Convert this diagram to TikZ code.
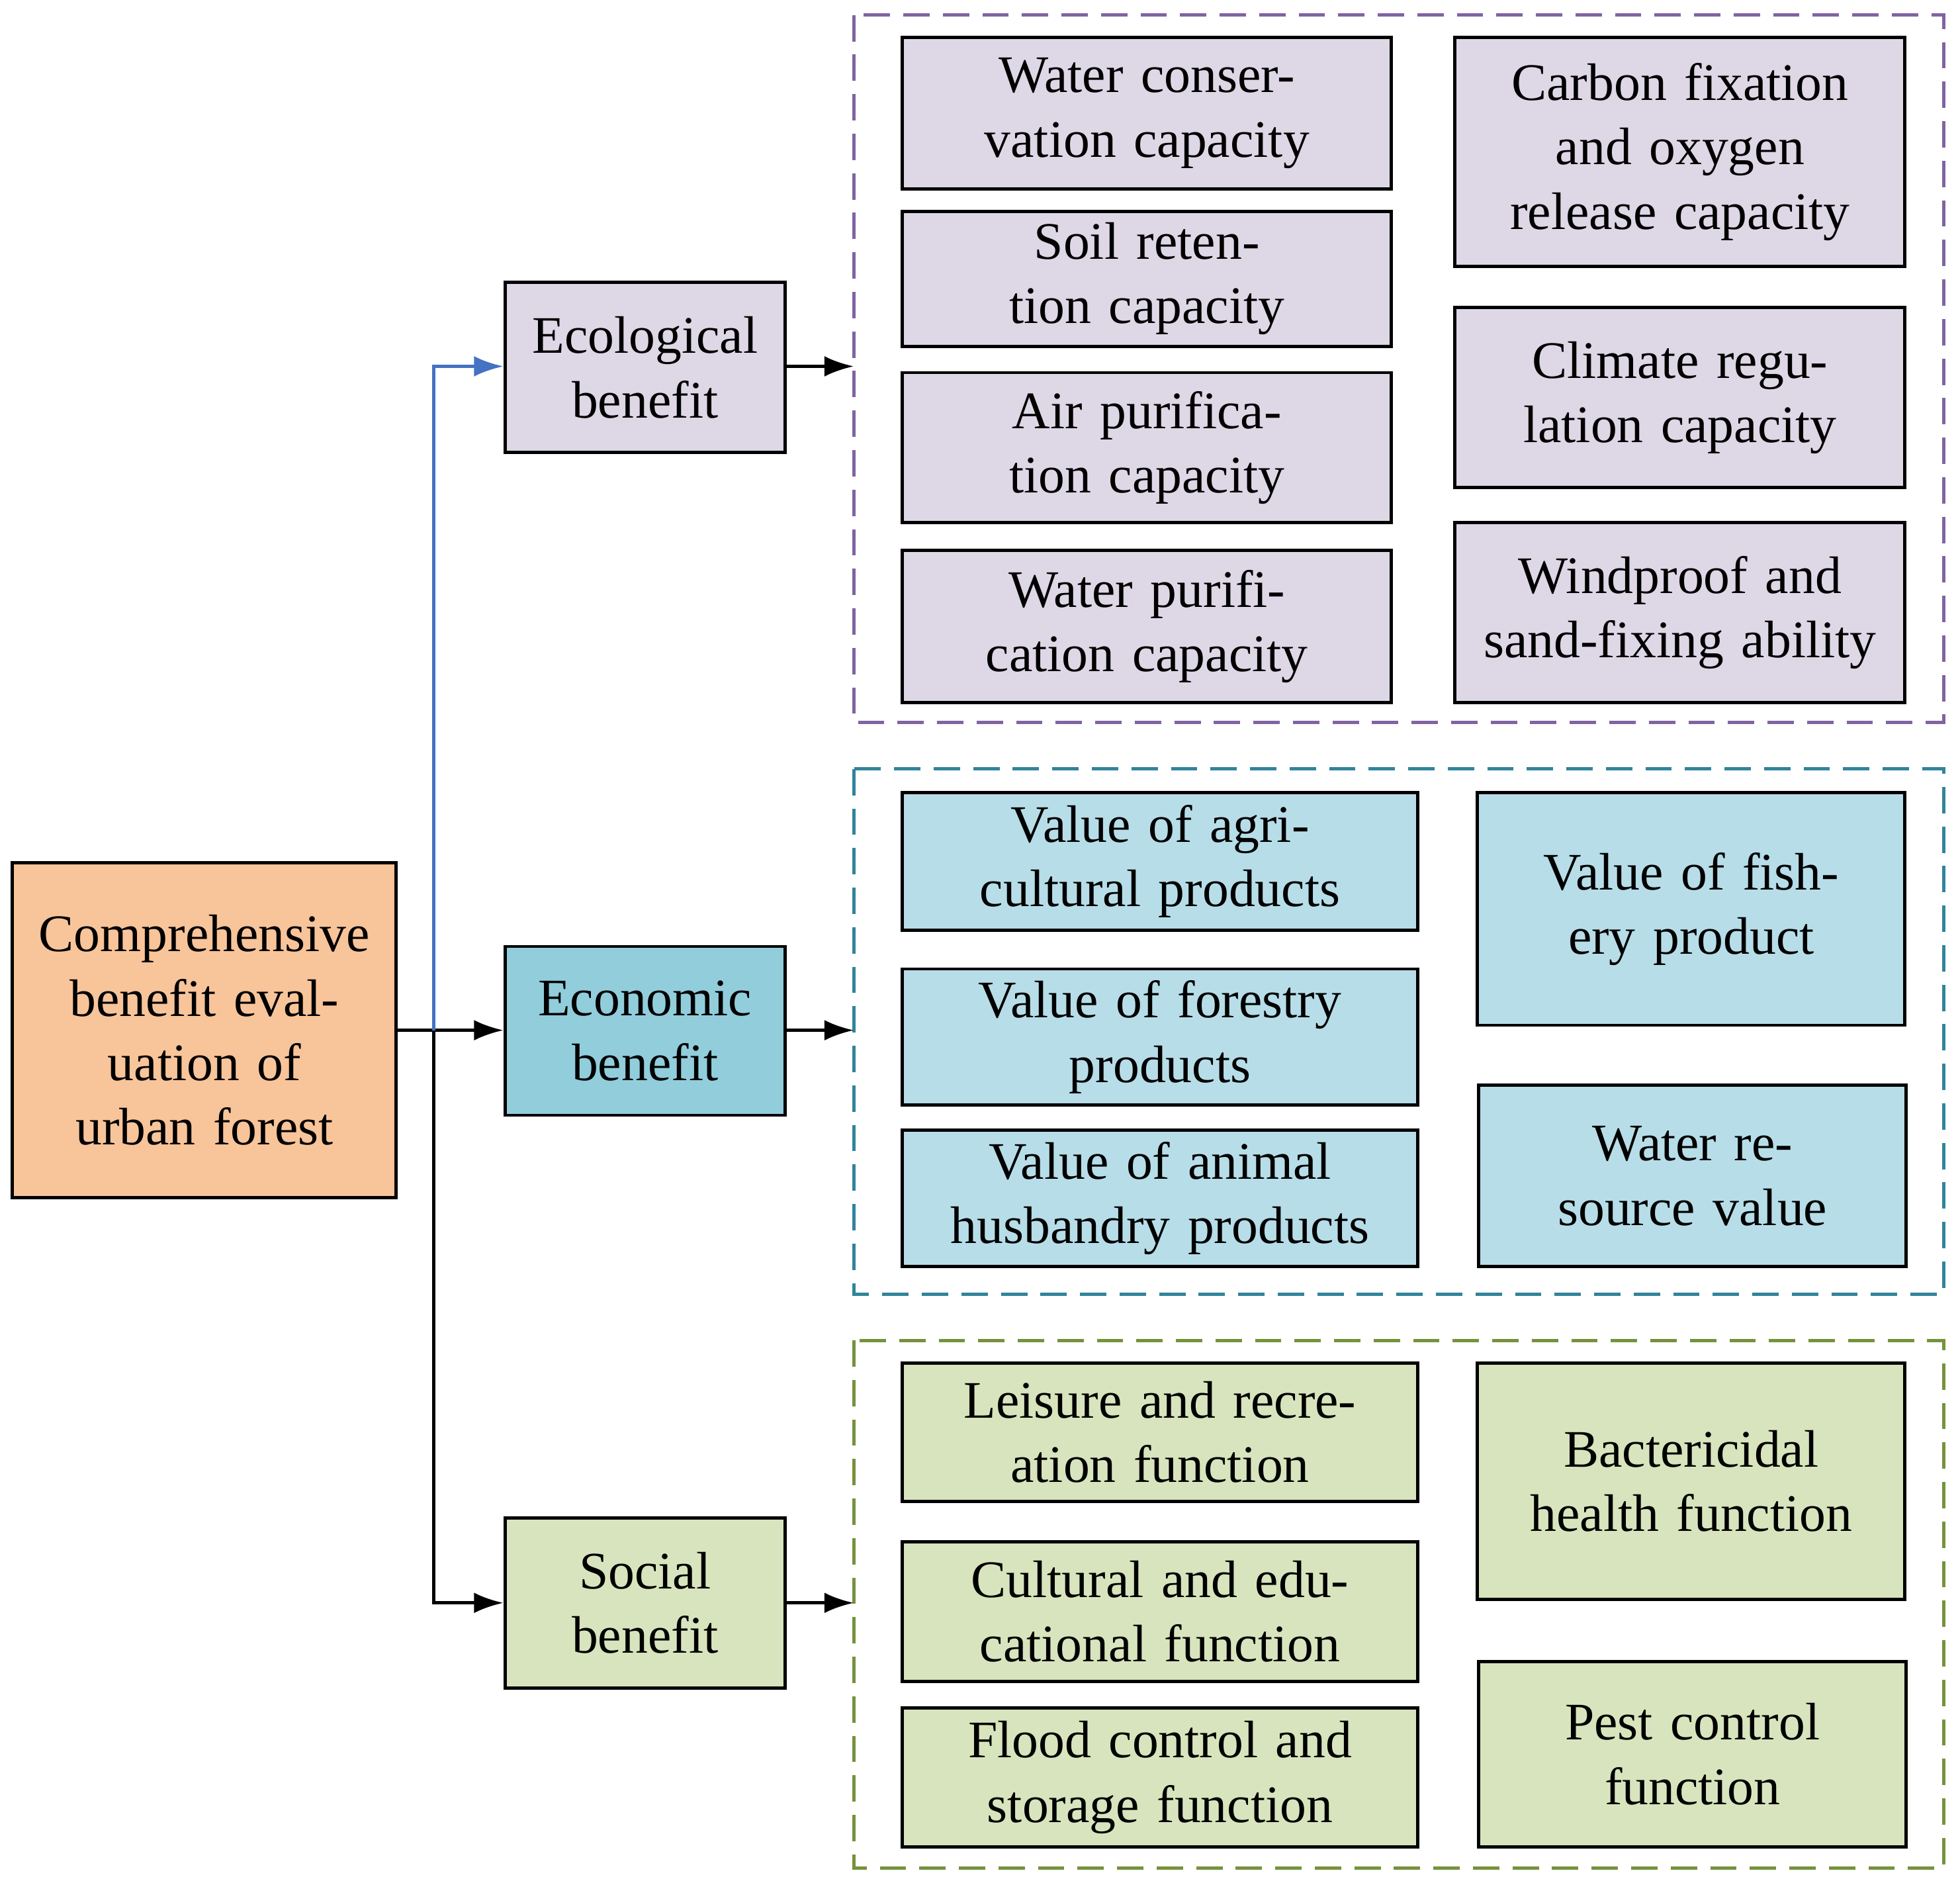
\documentclass[tikz,border=0pt]{standalone}
\usepackage{fontspec}
\setmainfont{Liberation Serif}
\usetikzlibrary{arrows.meta}
\definecolor{cmain}{HTML}{F8C49A}
\definecolor{ceco}{HTML}{DDD7E6}
\definecolor{cecon}{HTML}{92CDDC}
\definecolor{ceconl}{HTML}{B7DDE8}
\definecolor{csoc}{HTML}{D8E4BD}
\definecolor{dpur}{HTML}{8064A2}
\definecolor{dteal}{HTML}{31849B}
\definecolor{dgrn}{HTML}{76923C}
\definecolor{cblue}{HTML}{4472C4}
\newcommand{\bx}[7]{%
 \pgfmathsetmacro{\cx}{(#2+#4)/2}\pgfmathsetmacro{\cy}{(#3+#5)/2}%
 \pgfmathsetmacro{\ww}{(#4-#2)*0.03}\pgfmathsetmacro{\hh}{(#5-#3)*0.03}%
 \node[box,fill=#6,minimum width=\ww cm,minimum height=\hh cm,text width=\ww cm-0.4cm] (#1) at (\cx,\cy) {#7};}
\begin{document}
\begin{tikzpicture}[x=0.03cm,y=-0.03cm,
 box/.style={draw,line width=2.2pt,align=center,inner sep=0pt,font=\fontsize{36}{44}\selectfont},
 dbox/.style={draw,line width=2.2pt,dash pattern=on 18pt off 9pt},
 arr/.style={line width=2.2pt,-{Latex[length=20pt,width=14pt]}}]
\useasboundingbox (0,0) rectangle (1568,1506);
\draw[dbox,dpur] (683,12) rectangle (1555,578);
\draw[dbox,dteal] (683,615) rectangle (1555,1035);
\draw[dbox,dgrn] (683,1072) rectangle (1555,1494);
\bx{main}{10}{690}{317}{958}{cmain}{Comprehensive benefit evaluation of urban forest}
\bx{eco}{404}{226}{628}{362}{ceco}{Ecological benefit}
\bx{econ}{404}{757}{628}{892}{cecon}{Economic benefit}
\bx{soc}{404}{1214}{628}{1350}{csoc}{Social benefit}
\bx{e1}{722}{30}{1113}{151}{ceco}{Water conservation capacity}
\bx{e2}{722}{169}{1113}{277}{ceco}{Soil retention capacity}
\bx{e3}{722}{298}{1113}{418}{ceco}{Air purification capacity}
\bx{e4}{722}{440}{1113}{562}{ceco}{Water purification capacity}
\bx{e5}{1164}{30}{1524}{213}{ceco}{Carbon fixation and oxygen release capacity}
\bx{e6}{1164}{246}{1524}{390}{ceco}{Climate regulation capacity}
\bx{e7}{1164}{418}{1524}{562}{ceco}{Windproof and sand-fixing ability}
\bx{n1}{722}{634}{1134}{744}{ceconl}{Value of agricultural products}
\bx{n2}{722}{775}{1134}{884}{ceconl}{Value of forestry products}
\bx{n3}{722}{904}{1134}{1013}{ceconl}{Value of animal husbandry products}
\bx{n4}{1182}{634}{1524}{820}{ceconl}{Value of fishery product}
\bx{n5}{1183}{868}{1525}{1013}{ceconl}{Water resource value}
\bx{s1}{722}{1090}{1134}{1201}{csoc}{Leisure and recreation function}
\bx{s2}{722}{1233}{1134}{1345}{csoc}{Cultural and educational function}
\bx{s3}{722}{1366}{1134}{1477}{csoc}{Flood control and storage function}
\bx{s4}{1182}{1090}{1524}{1279}{csoc}{Bactericidal health function}
\bx{s5}{1183}{1329}{1525}{1477}{csoc}{Pest control function}
\coordinate (j) at (347,824);
\coordinate (pe) at (683,293);
\coordinate (pn) at (683,824);
\coordinate (ps) at (683,1282);
\draw[arr] (main.east|-j) -- (econ.west|-j);
\draw[arr,cblue] (j) -- (347,293) -- (eco.west|-pe);
\draw[arr] (j) -- (347,1282) -- (soc.west|-ps);
\draw[arr] (eco.east|-pe) -- (pe);
\draw[arr] (econ.east|-pn) -- (pn);
\draw[arr] (soc.east|-ps) -- (ps);
\end{tikzpicture}
\end{document}
